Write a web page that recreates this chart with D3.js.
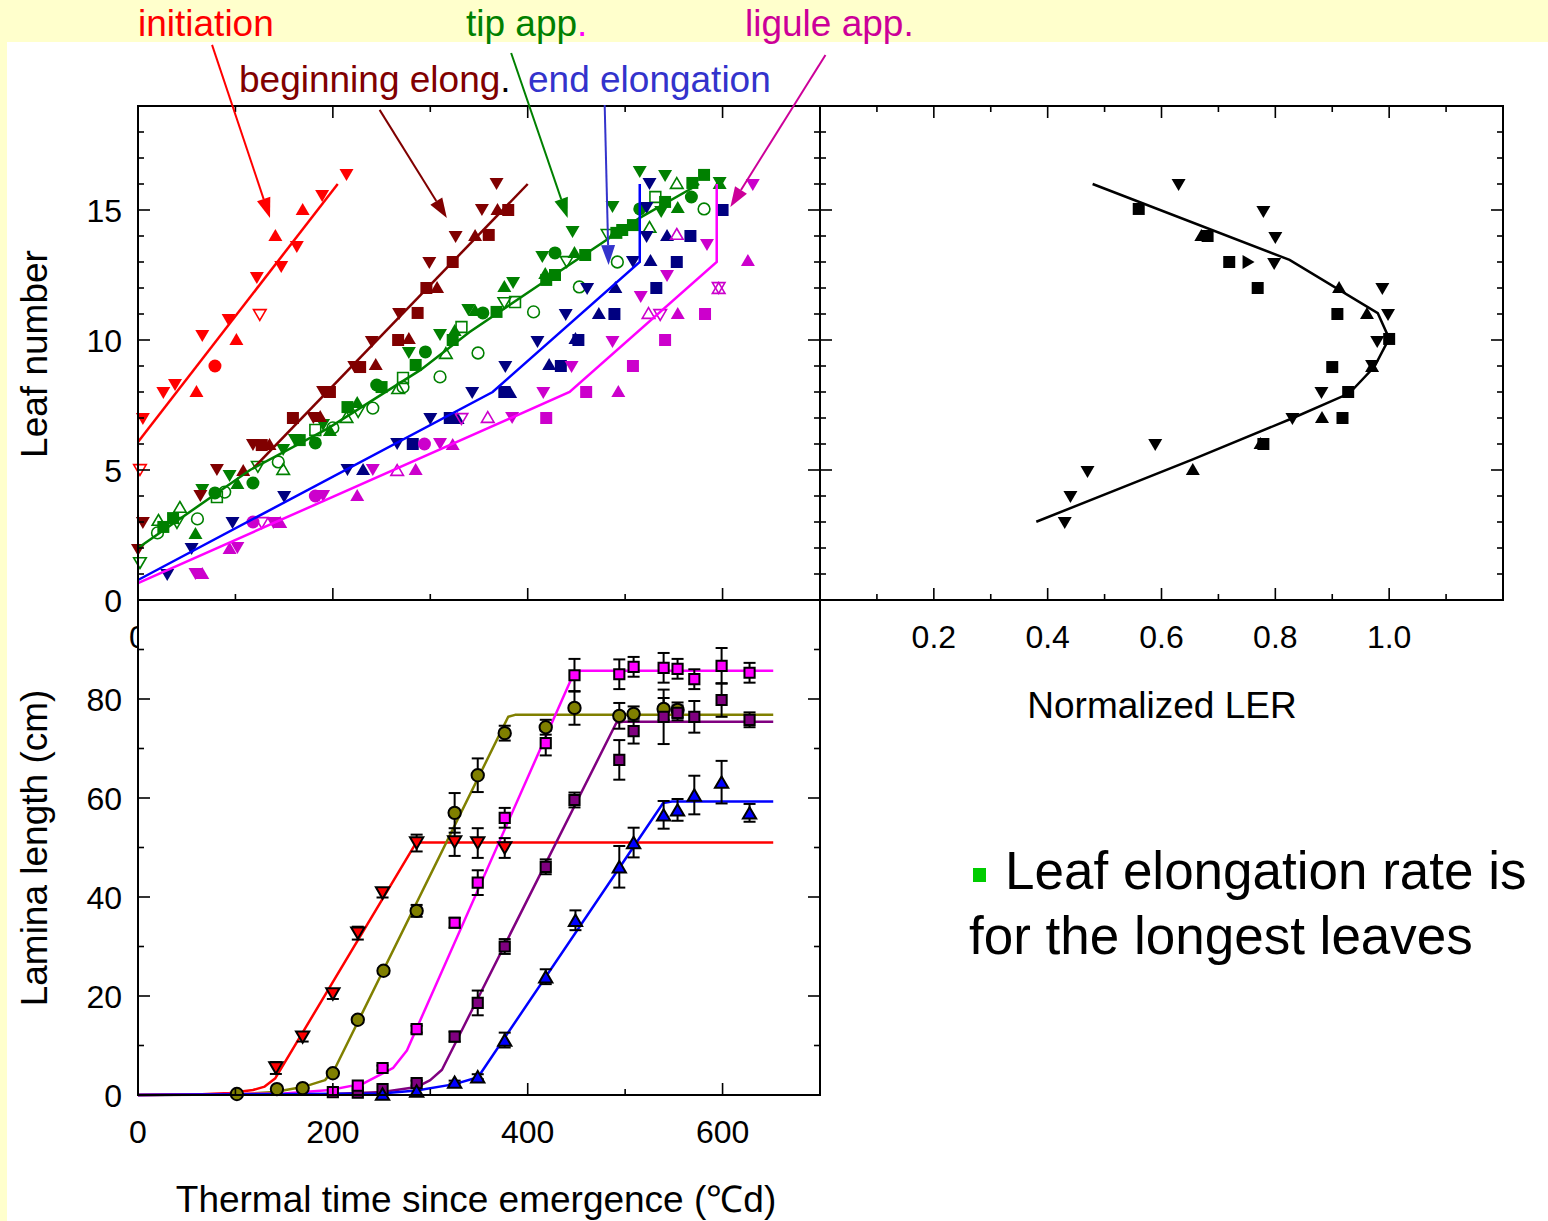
<!DOCTYPE html>
<html><head><meta charset="utf-8">
<script src="https://cdn.jsdelivr.net/npm/d3@7"></script>
<style>
body{margin:0;background:#FFFFCC;}
svg{display:block;font-family:"Liberation Sans",Arial,sans-serif;}
</style>
</head><body>
<svg id="c" width="1548" height="1221"></svg>
<script>
// ---------- DATA ----------
// Top-left: leaf number vs thermal time. [t (°Cd), leaf number, marker]
const initiationPts = [[214,16.35,'dt'],[189,15.54,'dt'],[169,15.04,'ut'],[141,14.04,'ut'],[163,13.58,'dt'],[147,12.81,'dt'],[122,12.38,'dt'],[125,10.96,'odt'],[93,10.77,'dt'],[66,10.15,'dt'],[101,10.04,'ut'],[79,9.0,'ci'],[38,8.27,'dt'],[26,7.96,'dt'],[60,8.04,'ut'],[5,6.96,'dt'],[2,5.0,'odt']];
const beginElongPts = [[368,16.0,'dt'],[353,15.0,'dt'],[369,15.04,'ut'],[380,15.0,'sq'],[326,13.96,'dt'],[346,14.04,'ut'],[360,14.04,'sq'],[323,13.0,'sq'],[299,12.96,'dt'],[296,12.0,'sq'],[307,12.04,'ut'],[287,11.04,'sq'],[268,11.0,'dt'],[267,10.0,'sq'],[278,10.08,'ut'],[240,9.92,'dt'],[228,8.96,'sq'],[222,8.96,'dt'],[244,9.08,'ut'],[190,8.0,'dt'],[197,8.0,'sq'],[159,7.0,'sq'],[180,7.0,'dt'],[187,7.08,'ut'],[118,5.96,'dt'],[127,5.96,'sq'],[135,6.0,'ut'],[81,5.0,'dt'],[108,5.0,'ut'],[64,4.0,'dt'],[5,2.96,'dt'],[0,1.92,'dt']];
const tipAppPts = [[515,16.46,'dt'],[541,16.31,'dt'],[553,16.04,'out'],[581,16.35,'sq'],[569,16.04,'sq'],[597,16.04,'ut'],[597,16.04,'dt'],[568,15.5,'ci'],[581,15.04,'oci'],[531,15.5,'osq'],[541,15.31,'sq'],[554,15.12,'ut'],[515,15.04,'ci'],[537,14.92,'dt'],[525,14.35,'out'],[487,15.12,'dt'],[491,14.12,'sq'],[497,14.23,'sq'],[508,14.42,'sq'],[482,14.04,'odt'],[492,13.0,'oci'],[446,14.15,'dt'],[415,13.19,'dt'],[428,13.35,'ci'],[440,13.0,'odt'],[448,13.38,'ut'],[459,13.27,'sq'],[453,12.04,'oci'],[418,12.58,'ut'],[428,12.5,'sq'],[419,12.31,'sq'],[376,12.08,'ut'],[385,12.19,'dt'],[376,11.42,'odt'],[387,11.46,'osq'],[406,11.08,'oci'],[354,11.04,'ci'],[368,11.08,'sq'],[346,11.15,'ut'],[349,9.5,'oci'],[310,8.58,'oci'],[272,8.54,'osq'],[267,8.15,'out'],[272,8.19,'oci'],[245,8.27,'ci'],[250,8.19,'sq'],[241,7.38,'oci'],[225,7.62,'ut'],[215,7.42,'sq'],[226,7.23,'odt'],[214,7.04,'out'],[200,6.62,'oci'],[197,6.54,'ut'],[182,6.54,'osq'],[190,6.73,'dt'],[182,6.04,'ci'],[166,6.15,'sq'],[161,6.15,'dt'],[149,5.77,'dt'],[144,5.31,'oci'],[149,5.04,'out'],[123,5.12,'odt'],[118,4.5,'ci'],[102,4.5,'ut'],[94,4.77,'dt'],[89,4.15,'oci'],[81,3.96,'osq'],[79,4.12,'ci'],[66,4.23,'dt'],[61,3.12,'oci'],[59,2.58,'ut'],[43,3.58,'out'],[36,3.15,'sq'],[40,2.96,'odt'],[26,2.81,'sq'],[21,3.08,'out'],[20,2.58,'oci'],[2,1.42,'odt'],[278,9.5,'dt'],[295,9.54,'ci'],[316,9.5,'out'],[285,9.04,'sq'],[310,10.19,'dt'],[339,11.15,'dt'],[323,10.0,'sq'],[325,10.38,'ut'],[332,10.5,'osq']];
const endElongPts = [[525,16.0,'dt'],[522,15.08,'dt'],[600,15.0,'sq'],[522,13.96,'dt'],[543,14.04,'ut'],[567,14.0,'sq'],[508,13.0,'dt'],[526,13.08,'ut'],[553,13.0,'sq'],[461,11.96,'dt'],[490,12.04,'ut'],[532,12.0,'sq'],[439,10.96,'dt'],[473,11.04,'ut'],[489,11.0,'sq'],[410,9.92,'dt'],[449,10.08,'ut'],[452,10.0,'sq'],[377,8.96,'dt'],[422,9.08,'ut'],[434,9.0,'sq'],[343,7.96,'dt'],[376,8.0,'sq'],[382,8.0,'ut'],[300,6.96,'dt'],[320,7.0,'sq'],[328,7.0,'ut'],[266,6.0,'dt'],[282,6.0,'sq'],[215,5.0,'dt'],[231,5.04,'ut'],[150,3.96,'dt'],[97,2.96,'dt'],[55,1.96,'dt'],[30,0.96,'dt']];
const liguleAppPts = [[631,15.96,'dt'],[584,13.65,'dt'],[553,14.08,'out'],[626,13.08,'ut'],[543,12.46,'dt'],[596,12.0,'odt'],[596,12.0,'out'],[516,11.65,'dt'],[524,11.04,'out'],[536,10.96,'odt'],[554,11.04,'ut'],[582,11.0,'sq'],[487,9.92,'dt'],[541,10.0,'sq'],[508,9.0,'sq'],[445,8.96,'dt'],[416,7.96,'dt'],[460,8.0,'sq'],[493,8.04,'ut'],[359,7.04,'out'],[384,7.0,'dt'],[419,7.0,'sq'],[332,6.96,'odt'],[294,6.0,'ci'],[310,6.0,'dt'],[323,6.0,'ut'],[266,5.0,'out'],[285,5.04,'ut'],[241,5.0,'dt'],[182,4.0,'ci'],[190,4.0,'dt'],[225,4.04,'ut'],[118,3.0,'ci'],[127,2.96,'odt'],[139,2.96,'dt'],[146,3.0,'ut'],[94,2.0,'ut'],[102,2.0,'dt'],[59,1.0,'dt'],[66,1.04,'ut']];

const initiationLine = [[0,6.08],[205,16.0]];
const beginElongLine = [[118,5.05],[400,16.0]];
const tipAppLine = [[0,2.0],[115,5.0],[195,6.6],[290,8.85],[340,10.3],[419,12.3],[515,14.7],[576,16.0]];
const endElongLine = [[0,0.77],[364,8.0],[515,13.0],[515,16.0]];
const liguleAppLine = [[0,0.65],[443,8.0],[594,13.0],[594,16.0]];

// Top-right: normalized LER vs leaf number. [LER, leaf number, marker]
const lerPts = [[0.630,15.96,'dt'],[0.560,15.04,'sq'],[0.779,14.92,'dt'],[0.670,14.04,'ut'],[0.681,14.0,'sq'],[0.800,13.92,'dt'],[0.719,13.0,'sq'],[0.753,13.0,'rt'],[0.798,12.92,'dt'],[0.769,12.0,'sq'],[0.912,12.04,'ut'],[0.988,11.96,'dt'],[0.909,11.0,'sq'],[0.961,11.04,'ut'],[0.998,10.96,'dt'],[0.979,9.92,'dt'],[1.0,10.04,'sq'],[0.900,8.96,'sq'],[0.970,9.0,'dt'],[0.970,9.0,'ut'],[0.928,8.0,'sq'],[0.881,7.96,'dt'],[0.882,7.04,'ut'],[0.918,7.0,'sq'],[0.830,6.96,'dt'],[0.774,6.04,'ut'],[0.779,6.0,'sq'],[0.589,5.96,'dt'],[0.655,5.04,'ut'],[0.470,4.92,'dt'],[0.440,3.96,'dt'],[0.430,2.96,'dt']];
const lerLine = [[0.479,16.0],[0.825,13.08],[0.980,11.03],[1.0,10.06],[0.974,8.97],[0.930,7.95],[0.830,6.99],[0.655,5.41],[0.380,3.01]];

// Bottom-left: lamina length vs thermal time. Curves [t, cm]; points [t, cm, error]
const redCurve = [[0,0],[60,0.1],[94,0.4],[118,1.0],[130,1.7],[141,3.4],[284,50.5],[290,51.0],[652,51.0]];
const oliveCurve = [[0,0],[100,0.1],[140,0.6],[169,1.6],[192,3.0],[203,5.7],[380,76.4],[387,76.8],[652,76.8]];
const pinkCurve = [[0,0],[150,0.3],[197,1.0],[231,2.3],[262,5.5],[276,9.0],[448,85.5],[455,85.7],[652,85.7]];
const purpleCurve = [[0,0],[200,0.2],[251,0.6],[286,1.6],[300,3.0],[312,5.1],[491,75.2],[498,75.4],[652,75.4]];
const blueCurve = [[0,0],[250,0.3],[286,0.9],[325,2.2],[349,3.6],[539,59.0],[548,59.3],[652,59.3]];

const redLam = [[141.5,5.45,1.2],[169,11.7,0.9],[200,20.4,1.0],[225.6,32.7,1.3],[251,40.8,0.9],[286,50.9,1.7],[325,51.1,2.8],[348.7,50.9,3.0],[376.4,49.9,2.0]];
const oliveLam = [[101.5,0.2,0],[142.6,1.2,0],[169,1.4,0],[200,4.4,0.5],[225.6,15.2,0.5],[252,25.1,0.5],[286,37.2,1.2],[325,57.0,4.0],[348.7,64.6,3.4],[376.4,73.1,1.5],[418.5,74.3,1.5],[448,78.2,3.4],[494,76.6,2.6],[508.7,77.0,1.5],[539.5,78.0,2.2],[553.8,77.8,1.5]];
const pinkLam = [[200,0.6,0],[225.6,1.9,0],[251,5.45,0.5],[286,13.3,0.7],[325,34.8,1.0],[348.7,42.9,2.5],[376.4,56.0,2.0],[418.5,71.1,2.5],[448,84.8,3.3],[494,85.0,3.0],[508.7,86.5,2.0],[539.5,86.3,3.0],[553.8,86.1,2.0],[571,84.0,2.0],[599,86.7,3.6],[627.7,85.3,2.0]];
const purpleLam = [[225.6,0.5,0],[251,1.2,0],[286,2.4,0.5],[325,11.8,1.0],[348.7,18.6,2.5],[376.4,30.0,1.5],[418.5,46.1,1.5],[448,59.6,1.5],[494,67.7,4.0],[508.7,73.5,2.5],[539.5,76.4,5.5],[553.8,77.2,1.5],[571,76.4,3.2],[599,79.8,3.4],[627.7,75.8,1.5]];
const blueLam = [[251,0.2,0],[286,0.8,0],[325,2.6,0.3],[348.7,3.7,0.5],[376.4,11.1,1.5],[418.5,23.9,1.5],[449,35.3,2.0],[494,46.1,4.2],[508.7,51.0,3.0],[539.5,56.6,2.8],[553.8,57.6,2.2],[571,60.6,3.9],[599,63.2,4.3],[627.7,57.0,1.8]];

// Tick labels
const leafTicks = [0,5,10,15];
const lamTicks = [0,20,40,60,80];
const timeTicks = [0,200,400,600];
const lerTicks = [0.2,0.4,0.6,0.8,1.0];

// Annotation arrows (from/to in data units of the top-left panel)
const annotations = [
  {color:'#FF0000', from:[76,21.35], to:[135.5,14.69]},
  {color:'#800000', from:[248,18.85], to:[317,14.69]},
  {color:'#008000', from:[383,21.04], to:[441,14.69]},
  {color:'#3333CC', from:[479,19.04], to:[483,12.88]},
  {color:'#CC0099', from:[705.6,20.96], to:[608,15.12]}
];

// ---------- DRAW ----------
const svg = d3.select('#c');
const W = 1548, H = 1221;
svg.append('rect').attr('width',W).attr('height',H).attr('fill','#FFFFCC');
svg.append('rect').attr('x',7).attr('y',42).attr('width',W-7).attr('height',H-42).attr('fill','#FFFFFF');

const x = d3.scaleLinear().domain([0,700]).range([138,820]);
const yN = d3.scaleLinear().domain([0,19]).range([600,106]);
const xL = d3.scaleLinear().domain([0,1.2]).range([820,1503]);
const yL = d3.scaleLinear().domain([0,100]).range([1095,600]);

function shapePath(s, k){
  k = k || 1;
  const w=14*k, h=12*k, q=6*k, r=6.5*k;
  const b = s.replace(/^o/,'');
  if (b==='ut') return `M0,${-h/2}L${w/2},${h/2}L${-w/2},${h/2}Z`;
  if (b==='dt') return `M0,${h/2}L${w/2},${-h/2}L${-w/2},${-h/2}Z`;
  if (b==='rt') return `M${h/2},0L${-h/2},${w/2}L${-h/2},${-w/2}Z`;
  if (b==='sq') return `M${-q},${-q}H${q}V${q}H${-q}Z`;
  return `M${r},0A${r},${r} 0 1,1 ${-r},0A${r},${r} 0 1,1 ${r},0Z`;
}

const gPts = svg.append('g');
function drawPts(data, color, xs, ys){
  gPts.selectAll(null).data(data).enter().append('path')
    .attr('transform', d=>`translate(${xs(d[0])},${ys(d[1])})`)
    .attr('d', d=>shapePath(d[2], d[2][0]==='o'?0.9:1))
    .attr('fill', d=>d[2][0]==='o'?'none':color)
    .attr('stroke', d=>d[2][0]==='o'?color:'none')
    .attr('stroke-width', 1.6);
}
drawPts(tipAppPts,'#008000',x,yN);
drawPts(beginElongPts,'#800000',x,yN);
drawPts(initiationPts,'#FF0000',x,yN);
drawPts(endElongPts,'#000080',x,yN);
drawPts(liguleAppPts,'#CC00CC',x,yN);
drawPts(lerPts,'#000000',xL,yN);

const lineN = d3.line().x(d=>x(d[0])).y(d=>yN(d[1]));
[[initiationLine,'#FF0000'],[beginElongLine,'#800000'],[tipAppLine,'#008000'],[endElongLine,'#0000FF'],[liguleAppLine,'#FF00FF']].forEach(([d,c])=>{
  svg.append('path').attr('d',lineN(d)).attr('fill','none').attr('stroke',c).attr('stroke-width',2.5);
});
svg.append('path').attr('d', d3.line().x(d=>xL(d[0])).y(d=>yN(d[1]))(lerLine))
  .attr('fill','none').attr('stroke','#000').attr('stroke-width',2.5);

// partially hidden "0" of the top-left x axis
svg.append('text').attr('x',x(0)).attr('y',648).attr('text-anchor','middle')
  .attr('font-size',32).text('0');
// bottom panel background
svg.append('rect').attr('x',139).attr('y',601).attr('width',680).attr('height',493).attr('fill','#fff');

// bottom panel curves
const lineL = d3.line().x(d=>x(d[0])).y(d=>yL(d[1]));
[[redCurve,'#FF0000'],[oliveCurve,'#808000'],[pinkCurve,'#FF00FF'],[purpleCurve,'#800080'],[blueCurve,'#0000FF']].forEach(([d,c])=>{
  svg.append('path').attr('d',lineL(d)).attr('fill','none').attr('stroke',c).attr('stroke-width',2.5).attr('stroke-linejoin','round');
});
const lamSeries = [[redLam,'#FF0000','dt'],[oliveLam,'#808000','ci'],[purpleLam,'#800080','sq'],[pinkLam,'#FF00FF','sq'],[blueLam,'#0000FF','ut']];
const gErr = svg.append('g').attr('stroke','#000').attr('stroke-width',2);
lamSeries.forEach(([data])=>{
  data.filter(d=>d[2]>0).forEach(d=>{
    const cx = x(d[0]), y1 = yL(d[1]-d[2]), y2 = yL(d[1]+d[2]);
    gErr.append('line').attr('x1',cx).attr('x2',cx).attr('y1',y1).attr('y2',y2);
    gErr.append('line').attr('x1',cx-6).attr('x2',cx+6).attr('y1',y1).attr('y2',y1);
    gErr.append('line').attr('x1',cx-6).attr('x2',cx+6).attr('y1',y2).attr('y2',y2);
  });
});
lamSeries.forEach(([data,color,shape])=>{
  svg.append('g').selectAll(null).data(data).enter().append('path')
    .attr('transform', d=>`translate(${x(d[0])},${yL(d[1])})`)
    .attr('d', shapePath(shape, shape==='sq'?0.85:0.95))
    .attr('fill', color).attr('stroke','#000').attr('stroke-width',2);
});

// frames
const gAx = svg.append('g').attr('stroke','#000').attr('stroke-width',1.6);
gAx.append('rect').attr('x',138).attr('y',106).attr('width',682).attr('height',494).attr('fill','none').attr('stroke-width',2);
gAx.append('rect').attr('x',820).attr('y',106).attr('width',683).attr('height',494).attr('fill','none').attr('stroke-width',2);
gAx.append('rect').attr('x',138).attr('y',600).attr('width',682).attr('height',495).attr('fill','none').attr('stroke-width',2);

function hTicks(xPos, ys, vals, dir, isMajor){
  vals.forEach(v=>{ const L = isMajor(v)?12:6;
    gAx.append('line').attr('x1',xPos).attr('x2',xPos+dir*L).attr('y1',ys(v)).attr('y2',ys(v)); });
}
function vTicks(yPos, xs, vals, dir, isMajor){
  vals.forEach(v=>{ const L = isMajor(v)?12:6;
    gAx.append('line').attr('y1',yPos).attr('y2',yPos+dir*L).attr('x1',xs(v)).attr('x2',xs(v)); });
}
const leafAll = d3.range(0,20), timeAll = d3.range(0,701,100), lamAll = d3.range(0,101,10), lerAll = d3.range(0,13).map(i=>i/10);
const maj5 = v=>v%5===0, maj200 = v=>v%200===0, maj20 = v=>v%20===0, majL = v=>Math.round(v*10)%2===0;
hTicks(138,yN,leafAll,1,maj5); hTicks(820,yN,leafAll,-1,maj5);
hTicks(820,yN,leafAll,1,maj5); hTicks(1503,yN,leafAll,-1,maj5);
vTicks(600,x,timeAll,-1,maj200); vTicks(106,x,timeAll,1,maj200);
vTicks(600,xL,lerAll,-1,majL); vTicks(106,xL,lerAll,1,majL);
hTicks(138,yL,lamAll,1,maj20); hTicks(820,yL,lamAll,-1,maj20);
vTicks(1095,x,timeAll,-1,maj200);

// tick labels
const gT = svg.append('g').attr('font-size',32).attr('fill','#000');
leafTicks.forEach(v=>gT.append('text').attr('x',122).attr('y',yN(v)+11.5).attr('text-anchor','end').text(v));
lamTicks.forEach(v=>gT.append('text').attr('x',122).attr('y',yL(v)+11.5).attr('text-anchor','end').text(v));
timeTicks.forEach(v=>gT.append('text').attr('x',x(v)).attr('y',1143).attr('text-anchor','middle').text(v));
lerTicks.forEach(v=>gT.append('text').attr('x',xL(v)).attr('y',648).attr('text-anchor','middle').text(d3.format('.1f')(v)));

// axis titles
const gTi = svg.append('g').attr('font-size',37).attr('fill','#000');
gTi.append('text').attr('transform','translate(47,354) rotate(-90)').attr('text-anchor','middle').text('Leaf number');
gTi.append('text').attr('transform','translate(47,848) rotate(-90)').attr('text-anchor','middle').text('Lamina length (cm)');
gTi.append('text').attr('x',476).attr('y',1212).attr('text-anchor','middle').text('Thermal time since emergence (\u2103d)');
gTi.append('text').attr('x',1162).attr('y',718).attr('text-anchor','middle').text('Normalized LER');

// annotation arrows
annotations.forEach(a=>{
  const x1=x(a.from[0]), y1=yN(a.from[1]), x2=x(a.to[0]), y2=yN(a.to[1]);
  const dx=x2-x1, dy=y2-y1, len=Math.hypot(dx,dy), ux=dx/len, uy=dy/len;
  const hl=20, hw=7, bx=x2-ux*hl, by=y2-uy*hl;
  svg.append('line').attr('x1',x1).attr('y1',y1).attr('x2',bx).attr('y2',by).attr('stroke',a.color).attr('stroke-width',2);
  svg.append('path').attr('d',`M${x2},${y2}L${bx-uy*hw},${by+ux*hw}L${bx+uy*hw},${by-ux*hw}Z`).attr('fill',a.color);
});

// annotation labels
const gA = svg.append('g').attr('font-size',37);
gA.append('text').attr('x',138).attr('y',36).attr('fill','#FF0000').text('initiation');
const t2 = gA.append('text').attr('x',466).attr('y',36);
t2.append('tspan').attr('fill','#008000').text('tip app');
t2.append('tspan').attr('fill','#FF00FF').text('.');
gA.append('text').attr('x',745).attr('y',36).attr('fill','#CC0099').text('ligule app.');
const t4 = gA.append('text').attr('x',239).attr('y',92);
t4.append('tspan').attr('fill','#800000').text('beginning elong');
t4.append('tspan').attr('fill','#000').text('.');
gA.append('text').attr('x',528).attr('y',92).attr('fill','#3333CC').text('end elongation');

// bullet text
svg.append('rect').attr('x',973).attr('y',868).attr('width',13).attr('height',14).attr('fill','#00CC00');
const gB = svg.append('g').attr('font-size',53).attr('fill','#000');
gB.append('text').attr('x',1005).attr('y',889).text('Leaf elongation rate is');
gB.append('text').attr('x',969).attr('y',954).text('for the longest leaves');
</script>
</body></html>
